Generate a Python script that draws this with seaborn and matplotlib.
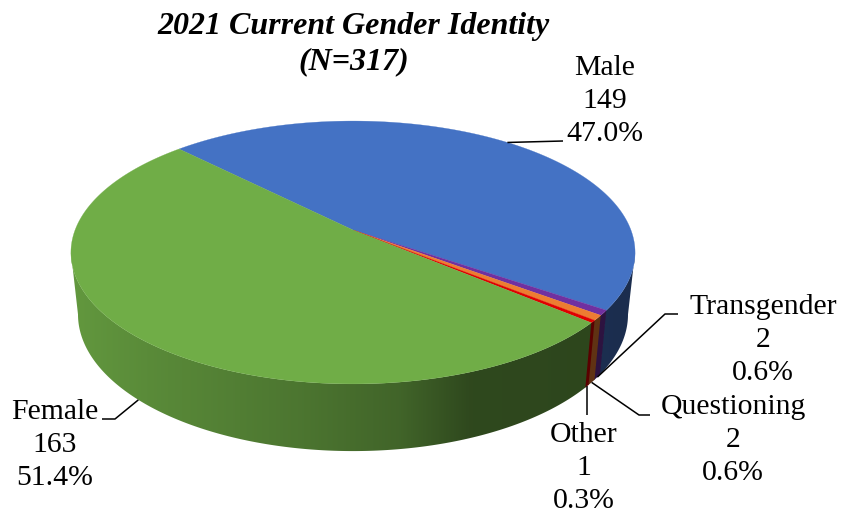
import numpy as np
import matplotlib
matplotlib.use("Agg")
import matplotlib.pyplot as plt
from matplotlib.patches import Polygon
import seaborn as sns

# ---- data ----
categories = ["Male", "Transgender", "Questioning", "Other", "Female"]
counts = [149, 2, 2, 1, 163]
percents = ["47.0%", "0.6%", "0.6%", "0.3%", "51.4%"]
hex_colors = ["#4472C4", "#7030A0", "#ED7D31", "#E00000", "#70AD47"]
title_lines = "2021 Current Gender Identity\n(N=317)"

sns.set_theme(style="white")
plt.rcParams["font.family"] = ["Liberation Serif", "DejaVu Serif"]
palette = sns.color_palette(hex_colors)

W, H = 841, 518
fig = plt.figure(figsize=(W / 100, H / 100), dpi=100, facecolor="white")
ax = fig.add_axes([0, 0, 1, 1])
ax.axis("off")

# ---- perspective pie geometry ----
cx, cy = 353.0, 230.0   # apex of the pie top
a, b, k = 277.9, 127.6, 0.171
start_deg = 134.6
x_scale, y_scale, depth = 0.975, 1.04, 61.0
seam_overlap = np.radians(0.35)
# the rim's left and right extremes, where the wall's silhouette starts
right_limit = -np.arcsin(k)
left_limit = -np.pi + np.arcsin(k)


def top_xy(t):
    w = 1 + k * np.sin(t)
    return cx + a * np.cos(t) / w, cy - b * np.sin(t) / w


def bottom_xy(t):
    x, y = top_xy(t)
    return cx + (x - cx) * x_scale, cy + (y - cy) * y_scale + depth


shade_x = [70, 150, 300, 400, 470, 640]
shade_f = [0.88, 0.80, 0.68, 0.58, 0.42, 0.40]
grad_x = np.linspace(60, 650, 296)
grad_f = np.interp(grad_x, shade_x, shade_f)

total = sum(counts)
sweeps = np.radians(np.array(counts) / total * 360.0)
edges = np.radians(start_deg) - np.concatenate([[0], np.cumsum(sweeps)])

# side wall first (front part only), as a horizontal shading clipped to each slice
for i, col in enumerate(palette):
    t0, t1 = edges[i], edges[i + 1]
    for offset in (0, 2 * np.pi, -2 * np.pi):
        lo = max(t1 + offset - seam_overlap, left_limit)
        hi = min(t0 + offset, right_limit)
        if hi <= lo:
            continue
        ts = np.linspace(hi, lo, max(4, int((hi - lo) / np.radians(0.5))))
        xt, yt = top_xy(ts)
        xb, yb = bottom_xy(ts[::-1])
        poly = Polygon(np.c_[np.r_[xt, xb], np.r_[yt, yb]], closed=True,
                       transform=ax.transData, facecolor="none", edgecolor="none")
        ax.add_patch(poly)
        rgb = np.array(col)[None, None, :] * grad_f[None, :, None]
        im = ax.imshow(rgb, extent=(grad_x[0], grad_x[-1], 480, 200), aspect="auto",
                       interpolation="bilinear", zorder=2 + i * 0.01)
        im.set_clip_path(poly)

# top face
for i, col in enumerate(palette):
    ts = np.linspace(edges[i], edges[i + 1], max(3, int(counts[i] * 4)))
    xs, ys = top_xy(ts)
    ax.fill(np.r_[cx, xs], np.r_[cy, ys], facecolor=col, edgecolor=col,
            lw=0.2, zorder=3)

ax.set_xlim(0, W)
ax.set_ylim(H, 0)

# ---- labels ----
label_font = 21.4
label_pos = {
    "Male": (605, 101),
    "Transgender": (763, 340),
    "Questioning": (733, 440),
    "Other": (584, 468),
    "Female": (55, 445),
}
for name, n, p in zip(categories, counts, percents):
    x, y = label_pos[name]
    ax.text(x, y, f"{name}\n{n}\n{p}", ha="center", va="center",
            fontsize=label_font, color="black", linespacing=1.34, zorder=6)

ax.text(354, 44, title_lines, ha="center", va="center", fontsize=23,
        fontweight="bold", fontstyle="italic", color="black",
        linespacing=1.275, zorder=6)

# ---- leader lines ----
mid = (edges[:-1] + edges[1:]) / 2
other_start = bottom_xy(mid[3])
leaders = {
    "Male": (top_xy(np.radians(51.0)), [(563, 141)]),
    "Transgender": (bottom_xy(mid[1]), [(665, 314), (678, 314)]),
    "Questioning": (bottom_xy(mid[2]), [(639, 415), (650, 415)]),
    "Other": (other_start, [(other_start[0], 415)]),
    "Female": (bottom_xy(np.radians(-134.0)), [(115, 419), (102, 419)]),
}
for name, (start, rest) in leaders.items():
    xs = [start[0]] + [r[0] for r in rest]
    ys = [start[1]] + [r[1] for r in rest]
    ax.plot(xs, ys, color="black", lw=1.1, zorder=5, solid_capstyle="butt")

fig.savefig("out.png", dpi=100, facecolor="white")
